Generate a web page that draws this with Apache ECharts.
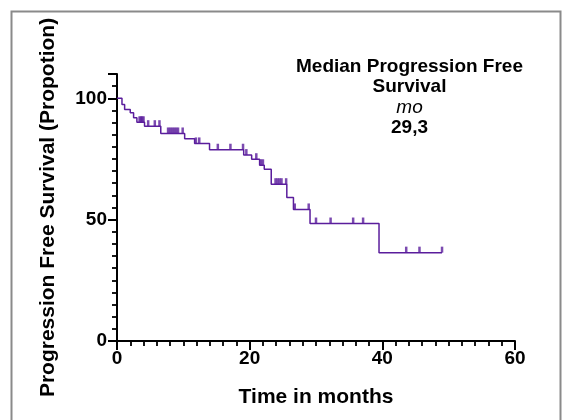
<!DOCTYPE html>
<html>
<head>
<meta charset="utf-8">
<script src="https://cdn.jsdelivr.net/npm/echarts@6/dist/echarts.min.js"></script>
<style>
  html, body { margin: 0; padding: 0; background: #fff; }
  #chart { width: 567px; height: 420px; }
</style>
</head>
<body>
<div id="chart"></div>
<script>
// Kaplan-Meier step points (month, PFS %)
const stepTimes = [0, 0.75, 1.15, 2.0, 2.5, 3.0, 4.15, 6.6, 10.2, 11.7, 13.95, 19.1, 20.3, 21.5, 22.2, 23.25, 25.6, 26.6, 29.1, 39.5, 49.0];
const survival  = [100, 97.4, 95.4, 94.0, 92.0, 90.1, 88.5, 85.5, 83.3, 81.4, 78.8, 76.6, 74.9, 72.4, 70.8, 64.6, 59.1, 54.2, 48.4, 36.4, 36.4];

// censored observations (month)
const censorTimes = [3.4, 3.6, 3.8, 4.0, 4.7, 5.7, 6.4, 7.7, 8.0, 8.3, 8.6, 8.9, 9.2, 9.9, 11.9, 12.4,
  15.2, 17.1, 19.0, 19.5, 21.0, 21.7, 22.0, 23.9, 24.2, 24.5, 24.8, 25.5, 26.8, 28.9,
  30.0, 32.2, 35.6, 37.1, 43.6, 45.6, 49.0];

const xTicks = [0, 20, 40, 60];
const yTicks = [0, 50, 100];
const noteLines = ['Median Progression Free', 'Survival', 'mo', '29,3'];

const FONT = '"Liberation Sans", Arial, sans-serif';
const PURPLE = '#5a1d9c';

function levelAt(t) {
  let v = survival[0];
  for (let i = 0; i < stepTimes.length; i++) {
    if (stepTimes[i] <= t) v = survival[i];
  }
  return v;
}

const curve = stepTimes.map((t, i) => [t, survival[i]]);
const censored = censorTimes.map(t => [t, levelAt(t)]);

const gridBox = { left: 117, right: 52, top: 74, bottom: 79 };

const chart = echarts.init(document.getElementById('chart'));
chart.setOption({
  animation: false,
  backgroundColor: '#fff',
  grid: [
    Object.assign({}, gridBox),
    Object.assign({}, gridBox)
  ],
  xAxis: [
    {
      // minor ticks every 2 months
      type: 'value', gridIndex: 0, min: 0, max: 60, interval: 2,
      axisLine: { lineStyle: { color: '#000', width: 2 } },
      axisTick: { length: 5, lineStyle: { color: '#000', width: 1.8 } },
      axisLabel: { show: false },
      splitLine: { show: false }
    },
    {
      // labelled major ticks
      type: 'value', gridIndex: 1, min: 0, max: 60, interval: 20,
      axisLine: { show: false },
      axisTick: { length: 9, lineStyle: { color: '#000', width: 2 } },
      axisLabel: {
        color: '#000', fontFamily: FONT, fontWeight: 'bold', fontSize: 19, margin: 8,
        formatter: v => (xTicks.indexOf(v) >= 0 ? String(v) : '')
      },
      splitLine: { show: false },
      name: 'Time in months', nameLocation: 'middle', nameGap: 46,
      nameTextStyle: { color: '#000', fontFamily: FONT, fontWeight: 'bold', fontSize: 21 }
    }
  ],
  yAxis: [
    {
      type: 'value', gridIndex: 0, min: 0, max: 110, interval: 5,
      axisLine: { show: true, lineStyle: { color: '#000', width: 2 } },
      axisTick: { length: 5, lineStyle: { color: '#000', width: 1.8 } },
      axisLabel: { show: false },
      splitLine: { show: false }
    },
    {
      type: 'value', gridIndex: 1, min: 0, max: 110, interval: 50,
      axisLine: { show: false },
      axisTick: {
        length: 9, lineStyle: { color: '#000', width: 2 },
        interval: (i, v) => yTicks.indexOf(+v) >= 0
      },
      axisLabel: {
        color: '#000', fontFamily: FONT, fontWeight: 'bold', fontSize: 19, margin: 10,
        formatter: v => (yTicks.indexOf(v) >= 0 ? String(v) : '')
      },
      splitLine: { show: false },
      name: 'Progression Free Survival (Propotion)', nameLocation: 'middle', nameGap: 58,
      nameTextStyle: { color: '#000', fontFamily: FONT, fontWeight: 'bold', fontSize: 21 }
    }
  ],
  series: [
    {
      type: 'line', xAxisIndex: 0, yAxisIndex: 0,
      data: curve, step: 'end', showSymbol: false,
      lineStyle: { color: PURPLE, width: 1.5 }
    },
    {
      type: 'scatter', xAxisIndex: 0, yAxisIndex: 0,
      data: censored, symbol: 'rect', symbolSize: [2.5, 6], symbolOffset: [0, -3],
      itemStyle: { color: PURPLE }
    }
  ],
  graphic: [
    {
      type: 'rect', left: 9, top: 9, silent: true,
      shape: { width: 549, height: 440 },
      style: { fill: 'none', stroke: '#8a8a8a', lineWidth: 2 }
    },
    {
      type: 'group', left: 296, top: 57,
      children: noteLines.map((s, i) => ({
        type: 'text', x: 113, y: i * 20.5,
        style: {
          text: s, align: 'center', fill: '#000', fontFamily: FONT,
          fontSize: 19,
          fontWeight: i === 2 ? 'normal' : 'bold',
          fontStyle: i === 2 ? 'italic' : 'normal'
        }
      }))
    }
  ]
});
</script>
</body>
</html>
